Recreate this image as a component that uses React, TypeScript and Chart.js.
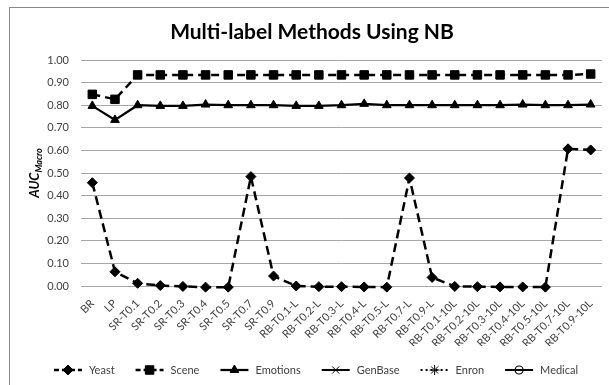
import React, { useEffect, useRef } from 'react';
import { Chart, registerables } from 'chart.js';
import { drawPoint } from 'chart.js/helpers';

Chart.register(...registerables);

const titleText = 'Multi-label Methods Using NB';

const categories = [
  'BR', 'LP', 'SR-T0.1', 'SR-T0.2', 'SR-T0.3', 'SR-T0.4', 'SR-T0.5', 'SR-T0.7', 'SR-T0.9',
  'RB-T0.1-L', 'RB-T0.2-L', 'RB-T0.3-L', 'RB-T0.4-L', 'RB-T0.5-L', 'RB-T0.7-L', 'RB-T0.9-L',
  'RB-T0.1-10L', 'RB-T0.2-10L', 'RB-T0.3-10L', 'RB-T0.4-10L', 'RB-T0.5-10L', 'RB-T0.7-10L', 'RB-T0.9-10L',
];

const yeast = [
  0.457, 0.063, 0.012, 0.002, -0.002, -0.005, -0.005, 0.484, 0.044,
  0.0, -0.003, -0.003, -0.004, -0.005, 0.478, 0.038,
  -0.002, -0.003, -0.004, -0.004, -0.005, 0.607, 0.602,
];

const scene = [
  0.848, 0.826, 0.934, 0.934, 0.934, 0.934, 0.934, 0.934, 0.934,
  0.934, 0.934, 0.934, 0.934, 0.934, 0.934, 0.934,
  0.934, 0.934, 0.934, 0.934, 0.934, 0.934, 0.938,
];

const emotions = [
  0.797, 0.735, 0.8, 0.797, 0.797, 0.803, 0.8, 0.8, 0.8,
  0.797, 0.797, 0.8, 0.806, 0.8, 0.8, 0.8,
  0.8, 0.8, 0.8, 0.803, 0.8, 0.8, 0.803,
];

const genBase: (number | null)[] = [];
const enron: (number | null)[] = [];
const medical: (number | null)[] = [];

const yTickValues = [0, 0.1, 0.2, 0.3, 0.4, 0.5, 0.6, 0.7, 0.8, 0.9, 1.0];

const FONT = 'Lato, "Open Sans", sans-serif';
const TEXT = '#404040';

const decorPlugin = {
  id: 'decor',
  beforeDraw(chart: any) {
    const ctx = chart.ctx;
    ctx.save();
    ctx.fillStyle = '#ffffff';
    ctx.fillRect(0, 0, chart.width, chart.height);
    ctx.strokeStyle = '#8a8a8a';
    ctx.lineWidth = 1;
    ctx.strokeRect(9.5, 7.5, 800, 600);
    ctx.restore();
  },
  afterDraw(chart: any) {
    const ctx = chart.ctx;
    const area = chart.chartArea;
    ctx.save();
    // title
    ctx.fillStyle = '#000000';
    ctx.font = `bold 21px ${FONT}`;
    ctx.textAlign = 'center';
    ctx.textBaseline = 'alphabetic';
    ctx.fillText(titleText, 312, 39);

    // y axis title with subscript
    ctx.save();
    const cy = (area.top + area.bottom) / 2;
    ctx.translate(39, cy);
    ctx.rotate(-Math.PI / 2);
    ctx.font = `italic bold 13px ${FONT}`;
    const w1 = ctx.measureText('AUC').width;
    ctx.font = `italic bold 9px ${FONT}`;
    const w2 = ctx.measureText('Macro').width;
    const start = -(w1 + w2) / 2;
    ctx.textAlign = 'left';
    ctx.font = `italic bold 13px ${FONT}`;
    ctx.fillText('AUC', start, 0);
    ctx.font = `italic bold 9px ${FONT}`;
    ctx.fillText('Macro', start + w1, 3);
    ctx.restore();

    // legend
    ctx.font = `11px ${FONT}`;
    ctx.textAlign = 'left';
    ctx.textBaseline = 'middle';
    const ds = chart.data.datasets;
    const symW = 28;
    const gapS = 7;
    const gapE = 21;
    const widths = ds.map((d: any) => ctx.measureText(d.label).width);
    let total = 0;
    widths.forEach((w: number) => (total += symW + gapS + w));
    total += gapE * (ds.length - 1);
    let x = 316 - total / 2;
    const ly = 370;
    ds.forEach((d: any, i: number) => {
      ctx.save();
      ctx.strokeStyle = '#000';
      ctx.fillStyle = '#000';
      ctx.lineWidth = d.borderWidth;
      ctx.setLineDash(d.legendDash || []);
      ctx.beginPath();
      ctx.moveTo(x, ly);
      ctx.lineTo(x + symW, ly);
      ctx.stroke();
      ctx.setLineDash([]);
      ctx.fillStyle = d.pointBackgroundColor;
      ctx.strokeStyle = '#000';
      ctx.lineWidth = d.pointBorderWidth;
      drawPoint(ctx, { pointStyle: d.pointStyle, radius: d.pointRadius, rotation: 0, borderWidth: d.pointBorderWidth }, x + symW / 2, ly);
      ctx.restore();
      ctx.fillStyle = TEXT;
      ctx.fillText(d.label, x + symW + gapS, ly + 0.5);
      x += symW + gapS + widths[i] + gapE;
    });
    ctx.restore();
  },
};

export default function App() {
  const ref = useRef<HTMLCanvasElement>(null);
  useEffect(() => {
    if (!ref.current) return;
    const chart = new Chart(ref.current, {
      type: 'line',
      data: {
        labels: categories,
        datasets: [
          {
            label: 'Yeast', data: yeast, borderColor: '#000', borderWidth: 2.5, borderDash: [9, 5],
            legendDash: [5, 3],
            pointStyle: 'rectRot', pointRadius: 5, pointBackgroundColor: '#000', pointBorderColor: '#000', pointBorderWidth: 1,
            clip: false, tension: 0,
          } as any,
          {
            label: 'Scene', data: scene, borderColor: '#000', borderWidth: 2.5, borderDash: [8, 5],
            legendDash: [5, 3],
            pointStyle: 'rect', pointRadius: 6, pointBackgroundColor: '#000', pointBorderColor: '#000', pointBorderWidth: 1,
            clip: false, tension: 0,
          } as any,
          {
            label: 'Emotions', data: emotions, borderColor: '#000', borderWidth: 2.25,
            pointStyle: 'triangle', pointRadius: 5, pointBackgroundColor: '#000', pointBorderColor: '#000', pointBorderWidth: 1,
            clip: false, tension: 0,
          } as any,
          {
            label: 'GenBase', data: genBase, borderColor: '#000', borderWidth: 2,
            pointStyle: 'crossRot', pointRadius: 5, pointBackgroundColor: '#000', pointBorderColor: '#000', pointBorderWidth: 1,
            clip: false,
          } as any,
          {
            label: 'Enron', data: enron, borderColor: '#000', borderWidth: 2, borderDash: [2, 3],
            legendDash: [2, 3],
            pointStyle: 'star', pointRadius: 5, pointBackgroundColor: '#000', pointBorderColor: '#000', pointBorderWidth: 1,
            clip: false,
          } as any,
          {
            label: 'Medical', data: medical, borderColor: '#000', borderWidth: 2,
            pointStyle: 'circle', pointRadius: 4, pointBackgroundColor: 'rgba(0,0,0,0)', pointBorderColor: '#000', pointBorderWidth: 1.2,
            clip: false,
          } as any,
        ],
      },
      options: {
        animation: false,
        responsive: false,
        devicePixelRatio: 1,
        layout: { padding: { left: 0, top: 60, right: 3, bottom: 39 } },
        plugins: {
          legend: { display: false },
          title: { display: false },
          tooltip: { enabled: false },
        },
        scales: {
          x: {
            offset: true,
            grid: { display: false, drawTicks: false },
            border: { display: false },
            ticks: {
              autoSkip: false, maxRotation: 45, minRotation: 45, padding: 11,
              color: TEXT, font: { family: FONT, size: 11 },
            },
            afterFit(scale: any) {
              scale.height = 60;
              scale.paddingLeft = 0;
              scale.paddingRight = 0;
            },
          },
          y: {
            min: 0, max: 1,
            grid: { color: '#a6a6a6', lineWidth: 1, drawTicks: false },
            border: { display: false },
            afterBuildTicks(scale: any) {
              scale.ticks = yTickValues.map((v) => ({ value: v }));
            },
            ticks: {
              padding: 12, color: TEXT, font: { family: FONT, size: 11 },
              callback: (v: any) => Number(v).toFixed(2),
            },
            afterFit(scale: any) {
              scale.width = 81;
              scale.paddingTop = 0;
              scale.paddingBottom = 0;
            },
          },
        },
      },
      plugins: [decorPlugin],
    });
    return () => chart.destroy();
  }, []);
  return (
    <div style={{ position: 'absolute', left: 0, top: 0, width: 609, height: 385 }}>
      <canvas ref={ref} width={609} height={385} style={{ display: 'block', width: 609, height: 385 }} />
    </div>
  );
}
